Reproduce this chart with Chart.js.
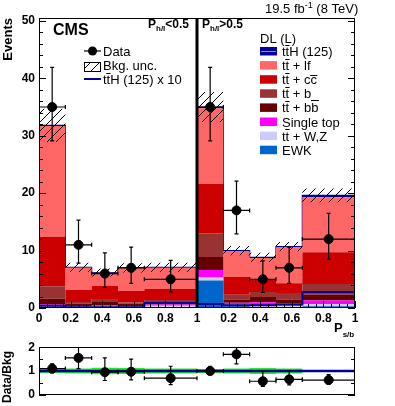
<!DOCTYPE html>
<html>
<head>
<meta charset="utf-8">
<script src="https://cdn.jsdelivr.net/npm/chart.js@4/dist/chart.umd.min.js"></script>
<style>
  body { margin: 0; background: #fff; }
  canvas { position: absolute; left: 0; }
  #main { top: 0; }
  #ratio { top: 336px; }
</style>
</head>
<body>
<canvas id="main" width="395" height="340"></canvas>
<canvas id="ratio" width="395" height="70"></canvas>
<script>
// P_s/b histogram, two regions (P_h/l<0.5 | P_h/l>0.5) glued on one axis 0..2
const binEdges = [0, 0.1667, 0.3333, 0.5, 0.6667, 1, 1.1667, 1.3333, 1.5, 1.6667, 2];
const binCenters = [0.0833, 0.25, 0.4167, 0.5833, 0.8333, 1.0833, 1.25, 1.4167, 1.5833, 1.8333];
const xTickVals = [0, 0.2, 0.4, 0.6, 0.8, 1, 1.2, 1.4, 1.6, 1.8, 2];
const xTickLabels = ['0', '0.2', '0.4', '0.6', '0.8', '1', '0.2', '0.4', '0.6', '0.8', '1'];
const yTickVals = [0, 10, 20, 30, 40, 50];
const ratioTickVals = [0, 1, 2];

// backgrounds, bottom to top of the stack
const ewk       = [0.1, 0.05, 0.05, 0.05, 0.1, 4.8, 0.3, 0.1, 0.1, 0.3];
const ttV       = [0.3, 0.2, 0.2, 0.2, 0.3, 0.5, 0.3, 0.4, 0.3, 0.4];
const singleTop = [0.2, 0.1, 0.2, 0.1, 0.2, 1.3, 0.3, 0.5, 0.4, 0.6];
const ttbb      = [1.0, 0.4, 0.6, 0.4, 0.5, 2.3, 0.6, 0.9, 0.7, 1.0];
const ttb       = [2.2, 0.3, 0.5, 0.2, 0.3, 4.1, 0.8, 0.9, 1.1, 1.9];
const ttcc      = [8.6, 2.1, 2.3, 2.0, 1.9, 8.6, 3.1, 2.1, 1.7, 5.5];
const ttlf      = [19.3, 3.9, 2.3, 4.0, 3.7, 13.2, 4.5, 3.8, 6.3, 9.6];
const ttH       = [0.1, 0.03, 0.03, 0.03, 0.1, 0.2, 0.1, 0.1, 0.1, 0.3];

const bkgUnc = [2.9, 0.8, 0.7, 0.8, 0.8, 2.6, 0.8, 0.8, 0.8, 1.2];
const ttHx10 = [0.4, 0.15, 0.15, 0.15, 0.9, 0.7, 0.5, 0.5, 0.6, 2.8];

const dataVals = [35, 11, 6, 7, 5, 35, 17, 5, 7, 12];
const dataLow  = [29.1, 7.8, 3.6, 4.3, 2.8, 29.1, 12.9, 2.7, 4.3, 8.5];
const dataHigh = [41.9, 15.3, 9.6, 10.6, 8.3, 41.9, 22.1, 8.2, 10.6, 16.5];

const ratioVals = [1.1, 1.55, 0.95, 0.97, 0.7, 1.0, 1.7, 0.57, 0.65, 0.62];
const ratioLow  = [0.92, 1.1, 0.6, 0.63, 0.43, 0.85, 1.3, 0.35, 0.42, 0.45];
const ratioHigh = [1.3, 2.0, 1.55, 1.5, 1.2, 1.2, 2.0, 1.0, 1.0, 0.85];
const ratioUnc  = [0.08, 0.1, 0.14, 0.13, 0.11, 0.08, 0.1, 0.13, 0.1, 0.04];

const FONT = '"Liberation Sans", Arial, Helvetica, sans-serif';
const NAVY = '#000099';

const stack = [
  { label: 'EWK', values: ewk, color: '#0066cc' },
  { label: 'tt + W,Z', values: ttV, color: '#ccccff' },
  { label: 'Single top', values: singleTop, color: '#ff00ff' },
  { label: 'tt + bb', values: ttbb, color: '#660000' },
  { label: 'tt + b_', values: ttb, color: '#993333' },
  { label: 'tt + cc', values: ttcc, color: '#cc0000' },
  { label: 'tt + lf', values: ttlf, color: '#ff6666' },
  { label: 'ttH (125)', values: ttH, color: NAVY }
];

// histogram as stepped line: one point per left edge, last edge repeats last bin
function steps(vals) {
  return binEdges.map((x, i) => ({ x: x, y: vals[Math.min(i, vals.length - 1)] }));
}

function hatchPattern() {
  const c = document.createElement('canvas');
  c.width = 9; c.height = 9;
  const g = c.getContext('2d');
  g.strokeStyle = '#000';
  g.lineWidth = 1;
  g.beginPath();
  g.moveTo(0, 9); g.lineTo(9, 0);
  g.moveTo(-1, 1); g.lineTo(1, -1);
  g.moveTo(8, 10); g.lineTo(10, 8);
  g.stroke();
  return g.createPattern(c, 'repeat');
}
const hatch = hatchPattern();

// overbar height above baseline, in em, per glyph
const barHeight = { t: 0.8, b: 0.84, c: 0.66 };

// text pieces with optional overbar on some characters
function rich(ctx, parts, x, y) {
  let cx = x;
  parts.forEach(p => {
    ctx.font = (p.bold ? 'bold ' : '') + p.size + 'px ' + FONT;
    const by = y + (p.dy || 0);
    ctx.fillText(p.t, cx, by);
    (p.bar || []).forEach(i => {
      const x0 = cx + ctx.measureText(p.t.slice(0, i)).width;
      const w = ctx.measureText(p.t[i]).width;
      const h = barHeight[p.t[i]] || 0.8;
      ctx.fillRect(x0 - 0.3, Math.round(by - p.size * h) - 1, w + 0.6, 1);
    });
    cx += ctx.measureText(p.t).width;
  });
  return cx;
}

function drawErrors(chart, vals, lo, hi) {
  const { ctx, chartArea: a } = chart;
  const xs = chart.scales.x, ys = chart.scales.y;
  ctx.save();
  ctx.beginPath();
  ctx.rect(a.left, a.top, a.right - a.left, a.bottom - a.top);
  ctx.clip();
  ctx.strokeStyle = '#000';
  ctx.lineWidth = 1.2;
  vals.forEach((v, i) => {
    const cx = xs.getPixelForValue(binCenters[i]);
    const cy = ys.getPixelForValue(v);
    const x0 = xs.getPixelForValue(binEdges[i]);
    const x1 = xs.getPixelForValue(binEdges[i + 1]);
    const y0 = ys.getPixelForValue(lo[i]);
    const y1 = ys.getPixelForValue(hi[i]);
    ctx.beginPath();
    ctx.moveTo(x0, cy); ctx.lineTo(x1, cy);
    ctx.moveTo(cx, y0); ctx.lineTo(cx, y1);
    ctx.moveTo(x0, cy - 2); ctx.lineTo(x0, cy + 2);
    ctx.moveTo(x1, cy - 2); ctx.lineTo(x1, cy + 2);
    ctx.moveTo(cx - 2, y0); ctx.lineTo(cx + 2, y0);
    ctx.moveTo(cx - 2, y1); ctx.lineTo(cx + 2, y1);
    ctx.stroke();
  });
  ctx.restore();
}

function drawFrameTicks(chart, yMajor, yMinor, xMajor, xMinor) {
  const { ctx, chartArea: a } = chart;
  const xs = chart.scales.x, ys = chart.scales.y;
  ctx.save();
  ctx.strokeStyle = '#000';
  ctx.lineWidth = 1;
  ctx.beginPath();
  yMajor.forEach(v => {
    const p = Math.round(ys.getPixelForValue(v)) + 0.5;
    ctx.moveTo(a.left, p); ctx.lineTo(a.left + 7, p);
    ctx.moveTo(a.right, p); ctx.lineTo(a.right - 7, p);
  });
  yMinor.forEach(v => {
    const p = Math.round(ys.getPixelForValue(v)) + 0.5;
    ctx.moveTo(a.left, p); ctx.lineTo(a.left + 4, p);
    ctx.moveTo(a.right, p); ctx.lineTo(a.right - 4, p);
  });
  xMajor.forEach(v => {
    const p = Math.round(xs.getPixelForValue(v)) + 0.5;
    ctx.moveTo(p, a.bottom); ctx.lineTo(p, a.bottom - 7);
  });
  xMinor.forEach(v => {
    const p = Math.round(xs.getPixelForValue(v)) + 0.5;
    ctx.moveTo(p, a.bottom); ctx.lineTo(p, a.bottom - 4);
  });
  ctx.stroke();
  ctx.strokeRect(Math.round(a.left) + 0.5, Math.round(a.top) + 0.5,
    Math.round(a.right - a.left) - 1, Math.round(a.bottom - a.top) - 1);
  ctx.restore();
}

const tickFont = { family: FONT, size: 12, weight: 'bold' };

// ---- main panel ----
const mainDatasets = [];
let running = new Array(10).fill(0);
stack.forEach((s, k) => {
  running = running.map((r, i) => r + s.values[i]);
  const top = k === stack.length - 1;
  mainDatasets.push({
    label: s.label,
    data: steps(running),
    stepped: 'before',
    backgroundColor: s.color,
    borderColor: top ? NAVY : 'rgba(0,0,0,0)',
    borderWidth: top ? 1.2 : 0,
    fill: k === 0 ? 'origin' : '-1',
    pointRadius: 0,
    order: 10
  });
});
const totalBkg = running;
mainDatasets.push({
  label: 'unc low',
  data: steps(totalBkg.map((t, i) => t - bkgUnc[i])),
  stepped: 'before', borderWidth: 0, borderColor: 'rgba(0,0,0,0)',
  fill: false, pointRadius: 0, order: 6
});
mainDatasets.push({
  label: 'Bkg. unc.',
  data: steps(totalBkg.map((t, i) => t + bkgUnc[i])),
  stepped: 'before', borderWidth: 0, borderColor: 'rgba(0,0,0,0)',
  backgroundColor: hatch, fill: '-1', pointRadius: 0, order: 5
});
mainDatasets.push({
  label: 'ttH (125) x 10',
  data: steps(ttHx10),
  stepped: 'before', borderColor: NAVY, borderWidth: 2,
  fill: false, pointRadius: 0, order: 2
});
mainDatasets.push({
  label: 'Data',
  data: binCenters.map((x, i) => ({ x: x, y: dataVals[i] })),
  showLine: false, pointRadius: 4.5, pointBackgroundColor: '#000',
  pointBorderColor: '#000', order: 0
});

const mainDecor = {
  id: 'mainDecor',
  afterDatasetsDraw(chart) {
    drawErrors(chart, dataVals, dataLow, dataHigh);
  },
  afterDraw(chart) {
    const { ctx, chartArea: a } = chart;
    const xs = chart.scales.x;
    const minors = [];
    for (let v = 0; v <= 2.001; v += 0.05) minors.push(v);
    const yMinors = [];
    for (let v = 0; v <= 50; v += 2) yMinors.push(v);
    drawFrameTicks(chart, yTickVals, yMinors, xTickVals, minors);

    // divider between the two regions
    ctx.save();
    ctx.fillStyle = '#000';
    const xd = xs.getPixelForValue(1);
    ctx.fillRect(xd - 1.5, a.top, 3, a.bottom - a.top);

    ctx.textBaseline = 'alphabetic';
    ctx.textAlign = 'left';
    ctx.font = 'bold 16px ' + FONT;
    ctx.fillText('CMS', 53, 35);

    rich(ctx, [{ t: 'P', size: 12, bold: true }, { t: 'h/l', size: 8, bold: true, dy: 3 },
      { t: '<0.5', size: 12, bold: true }], 148, 28);
    rich(ctx, [{ t: 'P', size: 12, bold: true }, { t: 'h/l', size: 8, bold: true, dy: 3 },
      { t: '>0.5', size: 12, bold: true }], 202, 28);

    rich(ctx, [{ t: '19.5 fb', size: 13 }, { t: '-1', size: 9, dy: -5 },
      { t: ' (8 TeV)', size: 13 }], 265, 13);

    rich(ctx, [{ t: 'P', size: 13, bold: true }, { t: 's/b', size: 8, bold: true, dy: 5 }], 334, 332);

    // axis title
    ctx.save();
    ctx.translate(8, a.top);
    ctx.rotate(-Math.PI / 2);
    ctx.textAlign = 'right';
    ctx.textBaseline = 'middle';
    ctx.font = 'bold 13px ' + FONT;
    ctx.fillText('Events', 0, 0);
    ctx.restore();

    // left legend
    ctx.strokeStyle = '#000';
    ctx.lineWidth = 1.2;
    ctx.beginPath(); ctx.moveTo(84, 51); ctx.lineTo(101, 51); ctx.stroke();
    ctx.beginPath(); ctx.arc(92.5, 51, 4.5, 0, Math.PI * 2); ctx.fill();
    ctx.fillStyle = hatch;
    ctx.fillRect(84, 62, 16, 9);
    ctx.lineWidth = 1;
    ctx.strokeRect(84.5, 62.5, 16, 9);
    ctx.strokeStyle = NAVY;
    ctx.lineWidth = 2;
    ctx.beginPath(); ctx.moveTo(84, 79); ctx.lineTo(101, 79); ctx.stroke();
    ctx.fillStyle = '#000';
    rich(ctx, [{ t: 'Data', size: 13 }], 103, 56);
    rich(ctx, [{ t: 'Bkg. unc.', size: 13 }], 103, 70);
    rich(ctx, [{ t: 'ttH (125) x 10', size: 13, bar: [1] }], 103, 84);

    // right legend
    rich(ctx, [{ t: 'DL (L)', size: 13 }], 260, 43);
    const bars = { 'ttH (125)': [1], 'tt + lf': [1], 'tt + cc': [1, 6], 'tt + b_': [1],
      'tt + bb': [1, 6], 'Single top': [], 'tt + W,Z': [1], 'EWK': [] };
    stack.slice().reverse().forEach((s, i) => {
      const cy = 51 + i * 14.1;
      ctx.fillStyle = s.color;
      ctx.fillRect(260, cy - 4, 17, 8.5);
      if (s.label === 'ttH (125)') {
        ctx.fillStyle = '#8888dd';
        ctx.fillRect(261, cy, 15, 1);
      }
      ctx.fillStyle = '#000';
      rich(ctx, [{ t: s.label, size: 13, bar: bars[s.label] }], 282, cy + 5);
    });
    ctx.restore();
  }
};

new Chart(document.getElementById('main'), {
  type: 'line',
  data: { datasets: mainDatasets },
  options: {
    responsive: false,
    animation: false,
    layout: { padding: { top: 18, right: 40, left: 0, bottom: 0 } },
    plugins: { legend: { display: false }, tooltip: { enabled: false } },
    scales: {
      x: {
        type: 'linear', min: 0, max: 2,
        grid: { display: false, drawTicks: false },
        border: { display: false },
        afterBuildTicks: s => { s.ticks = xTickVals.map(v => ({ value: v })); },
        afterFit: s => { s.height = 32; },
        ticks: {
          autoSkip: false, maxRotation: 0, minRotation: 0, padding: 3,
          color: '#000', font: tickFont,
          callback: (v, i) => xTickLabels[i]
        }
      },
      y: {
        min: 0, max: 50.5,
        grid: { display: false, drawTicks: false },
        border: { display: false },
        afterBuildTicks: s => { s.ticks = yTickVals.map(v => ({ value: v })); },
        afterFit: s => { s.width = 39; },
        ticks: { padding: 4, color: '#000', font: tickFont }
      }
    }
  },
  plugins: [mainDecor]
});

// ---- ratio panel ----
const ratioDecor = {
  id: 'ratioDecor',
  afterDatasetsDraw(chart) {
    drawErrors(chart, ratioVals, ratioLow, ratioHigh);
  },
  afterDraw(chart) {
    const { ctx, chartArea: a } = chart;
    drawFrameTicks(chart, ratioTickVals, [0.5, 1.5], [], []);
    ctx.save();
    ctx.fillStyle = '#000';
    ctx.translate(8, (a.top + a.bottom) / 2 + 6);
    ctx.rotate(-Math.PI / 2);
    ctx.textAlign = 'center';
    ctx.textBaseline = 'middle';
    ctx.font = 'bold 12px ' + FONT;
    ctx.fillText('Data/Bkg', 0, 0);
    ctx.restore();
  }
};

new Chart(document.getElementById('ratio'), {
  type: 'line',
  data: {
    datasets: [
      {
        label: 'band low', data: steps(ratioUnc.map(u => 1 - u)), stepped: 'before',
        borderWidth: 0, borderColor: 'rgba(0,0,0,0)', fill: false, pointRadius: 0, order: 10
      },
      {
        label: 'band', data: steps(ratioUnc.map(u => 1 + u)), stepped: 'before',
        borderWidth: 0, borderColor: 'rgba(0,0,0,0)', backgroundColor: '#22ee22',
        fill: '-1', pointRadius: 0, order: 9
      },
      {
        label: 'unity', data: steps(ratioUnc.map(() => 1)), stepped: 'before',
        borderColor: NAVY, borderWidth: 2.5, fill: false, pointRadius: 0, order: 5
      },
      {
        label: 'Data/Bkg', data: binCenters.map((x, i) => ({ x: x, y: ratioVals[i] })),
        showLine: false, pointRadius: 4.5, pointBackgroundColor: '#000',
        pointBorderColor: '#000', order: 0
      }
    ]
  },
  options: {
    responsive: false,
    animation: false,
    layout: { padding: { top: 6, right: 40, left: 0, bottom: 8 } },
    plugins: { legend: { display: false }, tooltip: { enabled: false } },
    scales: {
      x: { type: 'linear', min: 0, max: 2, display: false },
      y: {
        min: 0, max: 2,
        grid: { display: false, drawTicks: false },
        border: { display: false },
        afterBuildTicks: s => { s.ticks = ratioTickVals.map(v => ({ value: v })); },
        afterFit: s => { s.width = 39; },
        ticks: { padding: 4, color: '#000', font: tickFont }
      }
    }
  },
  plugins: [ratioDecor]
});
</script>
</body>
</html>
